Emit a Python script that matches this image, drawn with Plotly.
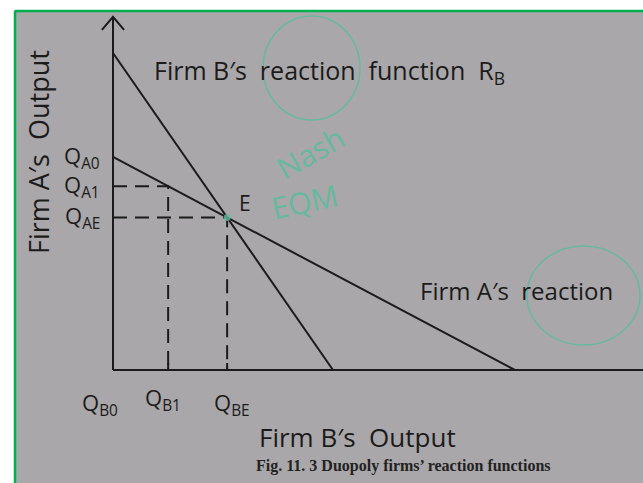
import plotly.graph_objects as go

# Reaction functions (output units): endpoints on each axis
rb_qb = [0.0, 69.4]     # Firm B's reaction R_B : QB values
rb_qa = [100.0, 0.0]    #                         QA values
ra_qb = [0.0, 126.8]    # Firm A's reaction      : QB values
ra_qa = [67.2, 0.0]     #                         QA values

# Adjustment point on A's reaction
qb1 = 17.4

# Axis extents (output units)
qb_max = 167.2
qa_max = 111.4

# Tick labels
ya_labels = ["Q<sub>A0</sub>", "Q<sub>A1</sub>", "Q<sub>AE</sub>"]
xb_labels = ["Q<sub>B0</sub>", "Q<sub>B1</sub>", "Q<sub>BE</sub>"]


def line_at(qb, xs, ys):
    return ys[0] + (ys[1] - ys[0]) * (qb - xs[0]) / (xs[1] - xs[0])


# Nash equilibrium: intersection of the two reaction lines
sb = (rb_qa[1] - rb_qa[0]) / (rb_qb[1] - rb_qb[0])
sa = (ra_qa[1] - ra_qa[0]) / (ra_qb[1] - ra_qb[0])
qbe = (ra_qa[0] - rb_qa[0]) / (sb - sa)
qae = line_at(qbe, rb_qb, rb_qa)
qa0 = ra_qa[0]
qa1 = line_at(qb1, ra_qb, ra_qa)

W, H = 643, 483
INK = "#1b1b1b"
TEAL = "#66b99f"
PAPER_GRAY = "#a9a7a9"
HAND = "Open Sans"
SCALE = 3.17          # pixels per output unit
OX, OY = 113, 370     # origin position on the page
PAD_X, PAD_Y = 6, 2   # room around the axes for the arrow head


def px(x):
    return x / W


def py(y):
    return (H - y) / H


fig = go.Figure()

ink = dict(color=INK, width=2)

# axes with an open arrow head on QA
fig.add_trace(go.Scatter(x=[0, qb_max], y=[0, 0], mode="lines", line=ink))
fig.add_trace(go.Scatter(x=[0, 0], y=[0, qa_max], mode="lines", line=ink))
fig.add_trace(go.Scatter(x=[-3.5, 0, 3.5], y=[qa_max - 4.1, qa_max, qa_max - 4.1],
                         mode="lines", line=ink))

# reaction lines
fig.add_trace(go.Scatter(x=rb_qb, y=rb_qa, mode="lines", line=ink))
fig.add_trace(go.Scatter(x=ra_qb, y=ra_qa, mode="lines", line=ink))

# dashed guides to the axes
dash = dict(color=INK, width=2, dash="14px,8px")
fig.add_trace(go.Scatter(x=[0, qb1, qb1], y=[qa1, qa1, 0], mode="lines", line=dash))
fig.add_trace(go.Scatter(x=[0, qbe, qbe], y=[qae, qae, 0], mode="lines", line=dash))

# small tick marks on the QB axis
for q in (qb1, qbe):
    fig.add_trace(go.Scatter(x=[q, q], y=[0, 2.2], mode="lines", line=ink))

# equilibrium point mark
fig.add_trace(go.Scatter(x=[qbe], y=[qae], mode="markers",
                         marker=dict(color=TEAL, size=7, opacity=0.8)))

annotations = []


def txt(text, x, y, size=22, color=INK, xanchor="center", angle=0, family=HAND, **kw):
    annotations.append(dict(text=text, x=x, y=y, xref="paper", yref="paper",
                            xanchor=xanchor, yanchor="middle", showarrow=False,
                            textangle=angle,
                            font=dict(family=family, size=size, color=color), **kw))


txt("Firm B′s  reaction  function  R<sub>B</sub>", px(152), py(72), size=25, xanchor="left")
txt("Firm A′s  reaction", px(418), py(290), size=24, xanchor="left")
txt("Firm B′s  Output", px(357), py(437), size=26)
txt("Firm A′s  Output", px(38), py(152), size=27, angle=-90)
txt("E", px(245), py(203), size=21)
txt("Nash", px(310), py(152), size=30, color=TEAL, angle=-30)
txt("EQM", px(304), py(201), size=30, color=TEAL, angle=-12)
txt("<b>Fig. 11. 3 Duopoly firms’ reaction functions</b>", px(403), py(466),
    size=16, family="Liberation Serif", color="#222222")

# QA tick labels
for lab, q in zip(ya_labels, [qa0, qa1, qae]):
    annotations.append(dict(text=lab, x=0, y=q, xref="x", yref="y", xanchor="right",
                            yanchor="middle", xshift=-11, showarrow=False,
                            font=dict(family=HAND, size=22, color=INK)))
# QB tick labels
for lab, q, dx, dy in zip(xb_labels, [0, qb1, qbe], [-13, -5, 5], [-34, -29, -34]):
    annotations.append(dict(text=lab, x=q, y=0, xref="x", yref="y", xanchor="center",
                            yanchor="middle", xshift=dx, yshift=dy, showarrow=False,
                            font=dict(family=HAND, size=22, color=INK)))

shapes = [
    # photographed paper with green frame
    dict(type="rect", xref="paper", yref="paper", x0=px(14), x1=1.02, y0=-0.02, y1=py(10),
         fillcolor=PAPER_GRAY, line=dict(width=0), layer="below"),
    dict(type="line", xref="paper", yref="paper", x0=px(15), x1=1.02, y0=py(11), y1=py(11),
         line=dict(color="#00b050", width=2.5), layer="below"),
    dict(type="line", xref="paper", yref="paper", x0=px(15), x1=px(15), y0=-0.02, y1=py(11),
         line=dict(color="#00b050", width=2.5), layer="below"),
    # hand-drawn circles around "reaction"
    dict(type="circle", xref="paper", yref="paper", x0=px(263), x1=px(360), y0=py(120), y1=py(16),
         line=dict(color=TEAL, width=1.5)),
    dict(type="circle", xref="paper", yref="paper", x0=px(527), x1=px(640), y0=py(345), y1=py(246),
         line=dict(color=TEAL, width=1.5)),
]

fig.update_layout(
    width=W, height=H,
    margin=dict(l=0, r=0, t=0, b=0),
    paper_bgcolor="white",
    plot_bgcolor="rgba(0,0,0,0)",
    showlegend=False,
    annotations=annotations,
    shapes=shapes,
    xaxis=dict(domain=[px(OX - PAD_X * SCALE), 1], range=[-PAD_X, qb_max],
               visible=False),
    yaxis=dict(domain=[py(OY + PAD_Y * SCALE), py(OY - (qa_max + PAD_Y) * SCALE)],
               range=[-PAD_Y, qa_max + PAD_Y], visible=False),
)

fig.write_html("out.html")
